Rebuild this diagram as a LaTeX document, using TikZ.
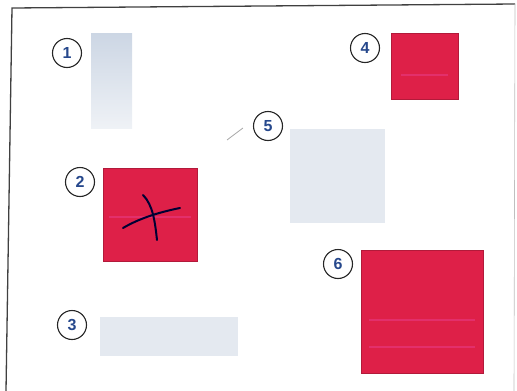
\documentclass[tikz,border=0pt]{standalone}
\usepackage{fontspec}
\setmainfont{Liberation Sans}
\usepackage{tikz}
\usetikzlibrary{positioning}
\definecolor{cardred}{RGB}{222,32,72}
\definecolor{cardpale}{RGB}{228,233,240}
\definecolor{cardblue}{RGB}{204,214,228}
\definecolor{numblue}{RGB}{38,72,140}
\definecolor{streak}{RGB}{236,70,160}
\tikzset{
  numcircle/.style={draw=black!85, line width=1.1pt, circle, fill=white, minimum size=29pt, inner sep=0pt,
    text=numblue, font=\fontsize{16}{16}\selectfont\bfseries},
  redcard/.style={draw=cardred!80!black, line width=0.5pt, fill=cardred, inner sep=0pt},
  palecard/.style={fill=cardpale, inner sep=0pt},
  streakline/.style={streak, line width=1.2pt, opacity=0.4},
  crossmark/.style={black!80!blue, line width=2pt, line cap=round},
  frameline/.style={black!75, line width=1.3pt}
}
\begin{document}
\begin{tikzpicture}[x=1pt, y=-1pt]
  \useasboundingbox (0,0) rectangle (517,391);
  % frame
  \draw[frameline] (6,391) -- (12,8) -- (515,4);
  \draw[black!25, line width=0.6pt] (515,4) -- (514,391);

  % cards
  \node[palecard, top color=cardblue, bottom color=cardpale!60!white, minimum width=41pt, minimum height=95pt] (c1) at (111.5,80.5) {};
  \node[redcard, minimum width=94pt, minimum height=93pt] (c2) at (150,214.5) {};
  \node[palecard, minimum width=138pt, minimum height=39pt] (c3) at (169,336.5) {};
  \node[redcard, minimum width=67pt, minimum height=66pt] (c4) at (424.5,66) {};
  \node[palecard, minimum width=95pt, minimum height=94pt] (c5) at (337.5,176) {};
  \node[redcard, minimum width=122pt, minimum height=123pt] (c6) at (422,311.5) {};

  % print streaks
  \draw[streakline] ([xshift=6pt,yshift=-2.5pt]c2.west) -- ([xshift=-6pt,yshift=-2.5pt]c2.east);
  \draw[streakline] ([xshift=10pt,yshift=-9pt]c4.west) -- ([xshift=-10pt,yshift=-9pt]c4.east);
  \draw[streakline] ([xshift=8pt,yshift=-8.5pt]c6.west) -- ([xshift=-8pt,yshift=-8.5pt]c6.east);
  \draw[streakline] ([xshift=8pt,yshift=-35.5pt]c6.west) -- ([xshift=-8pt,yshift=-35.5pt]c6.east);

  % cross on card 2
  \draw[crossmark] (143,195) .. controls (153,205) and (155,222) .. (157,240);
  \draw[crossmark] (123,228) .. controls (140,218) and (160,212) .. (180,208);

  % numbers
  \node[numcircle] (n1) at (67,53) {1};
  \node[numcircle] (n2) at (80,182) {2};
  \node[numcircle] (n3) at (72,325) {3};
  \node[numcircle] (n4) at (365,48) {4};
  \node[numcircle] (n5) at (268,126) {5};
  \node[numcircle] (n6) at (338,264) {6};

  \coordinate (lead5) at (227,140);
  \draw[black!35, line width=0.8pt] (lead5) -- ([xshift=-10pt,yshift=-2pt]n5.west);
\end{tikzpicture}
\end{document}
